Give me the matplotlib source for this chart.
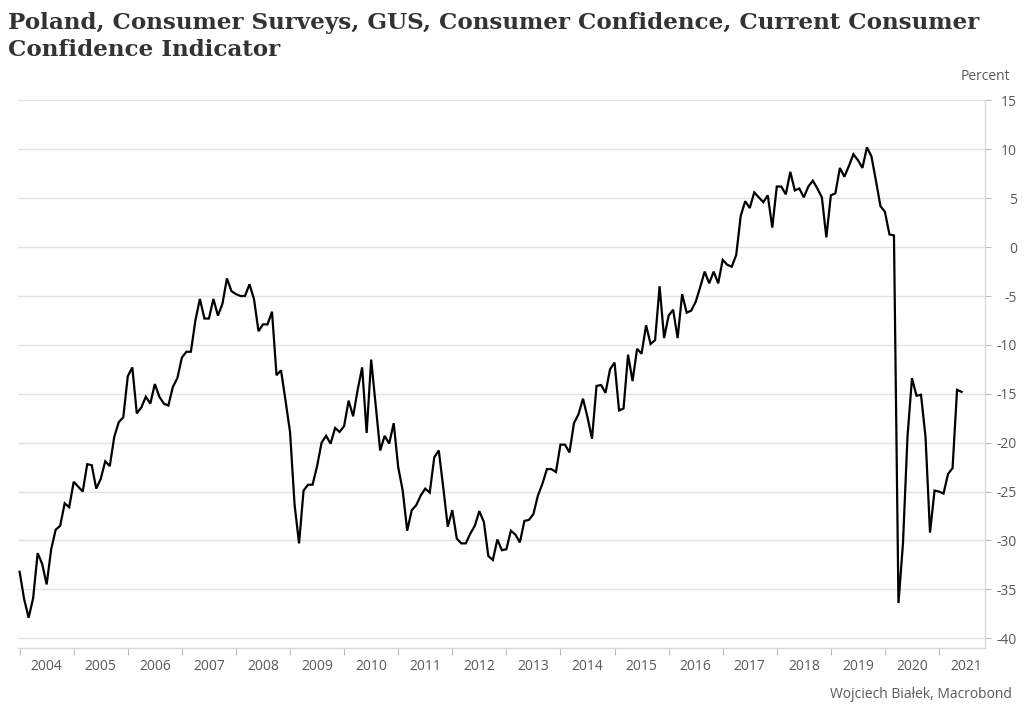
import numpy as np
import matplotlib.pyplot as plt
from matplotlib.ticker import FixedLocator, NullFormatter

# monthly readings, Jan 2004 .. Jun 2021
cci_2004 = [-33.2, -36.0, -37.9, -35.9, -31.3, -32.4, -34.5, -30.9, -28.9, -28.5, -26.2, -26.6]
cci_2005 = [-24.0, -24.5, -25.0, -22.2, -22.3, -24.7, -23.7, -21.9, -22.4, -19.4, -17.9, -17.4]
cci_2006 = [-13.2, -12.3, -17.0, -16.4, -15.3, -16.0, -14.0, -15.3, -16.0, -16.2, -14.3, -13.4]
cci_2007 = [-11.3, -10.7, -10.7, -7.5, -5.3, -7.3, -7.3, -5.3, -7.0, -5.8, -3.2, -4.5]
cci_2008 = [-4.8, -5.0, -5.0, -3.8, -5.3, -8.6, -7.9, -7.9, -6.6, -13.1, -12.6, -15.7]
cci_2009 = [-18.9, -26.3, -30.3, -24.9, -24.3, -24.3, -22.4, -20.0, -19.3, -20.1, -18.5, -18.9]
cci_2010 = [-18.3, -15.7, -17.3, -14.6, -12.3, -19.0, -11.5, -16.2, -20.8, -19.3, -20.1, -18.0]
cci_2011 = [-22.5, -24.9, -29.0, -26.9, -26.4, -25.4, -24.7, -25.1, -21.5, -20.8, -24.6, -28.6]
cci_2012 = [-26.9, -29.8, -30.3, -30.3, -29.3, -28.5, -27.0, -28.1, -31.6, -32.0, -29.9, -31.0]
cci_2013 = [-30.9, -29.0, -29.4, -30.2, -28.0, -27.9, -27.3, -25.4, -24.2, -22.7, -22.7, -23.0]
cci_2014 = [-20.2, -20.2, -21.0, -18.0, -17.1, -15.5, -17.4, -19.6, -14.2, -14.1, -14.9, -12.5]
cci_2015 = [-11.8, -16.7, -16.5, -11.0, -13.7, -10.4, -10.9, -8.0, -9.9, -9.5, -4.0, -9.3]
cci_2016 = [-7.0, -6.4, -9.3, -4.8, -6.7, -6.5, -5.6, -4.1, -2.5, -3.7, -2.5, -3.7]
cci_2017 = [-1.3, -1.8, -2.0, -0.8, 3.2, 4.7, 4.0, 5.6, 5.1, 4.6, 5.3, 2.0]
cci_2018 = [6.2, 6.2, 5.4, 7.7, 5.8, 6.0, 5.1, 6.2, 6.8, 6.0, 5.1, 1.0]
cci_2019 = [5.3, 5.5, 8.1, 7.2, 8.3, 9.5, 8.9, 8.1, 10.2, 9.3, 6.8, 4.2]
cci_2020 = [3.6, 1.3, 1.2, -36.4, -30.3, -19.4, -13.4, -15.2, -15.1, -19.4, -29.2, -24.9]
cci_2021 = [-25.0, -25.2, -23.2, -22.6, -14.6, -14.8]

year_labels = [str(y) for y in range(2004, 2022)]
y_ticks = [15, 10, 5, 0, -5, -10, -15, -20, -25, -30, -35, -40]

title = "Poland, Consumer Surveys, GUS, Consumer Confidence, Current Consumer\nConfidence Indicator"
unit = "Percent"
source = "Wojciech Białek, Macrobond"

values = np.array(cci_2004 + cci_2005 + cci_2006 + cci_2007 + cci_2008 + cci_2009 +
                  cci_2010 + cci_2011 + cci_2012 + cci_2013 + cci_2014 + cci_2015 +
                  cci_2016 + cci_2017 + cci_2018 + cci_2019 + cci_2020 + cci_2021)
x = 2004 + np.arange(len(values)) / 12.

gray = "#595959"
grid = "#e3e3e3"

fig = plt.figure(figsize=(10.24, 7.17), dpi=100)
W, H = 1024., 717.
ax = fig.add_axes([18/W, (H-648)/H, (985-18)/W, (648-100)/H])

ax.plot(x, values, color="black", lw=1.6, solid_joinstyle="miter", zorder=3)

ax.set_xlim(2003.97, 2021.85)
ax.set_ylim(-41.0, 15.05)

# y axis on the right
ax.yaxis.tick_right()
ax.set_yticks(y_ticks)
ax.set_yticklabels([str(t) for t in y_ticks], ha="right", family="Open Sans",
                   fontsize=10, color=gray)
ax.tick_params(axis="y", length=4, width=0.8, color="#bdbdbd", pad=19)
ax.grid(axis="y", color=grid, lw=1)

# x axis: ticks at year boundaries, labels mid-year
years = np.arange(2004, 2022)
ax.xaxis.set_major_locator(FixedLocator(years))
ax.xaxis.set_major_formatter(NullFormatter())
ax.xaxis.set_minor_locator(FixedLocator(years + 0.5))
ax.set_xticklabels(year_labels, minor=True, family="Open Sans", fontsize=10, color=gray)
ax.tick_params(axis="x", which="major", length=5, width=0.8, color="#bdbdbd")
ax.tick_params(axis="x", which="minor", length=0, pad=8)

for s in ["top", "left"]:
    ax.spines[s].set_visible(False)
for s in ["bottom", "right"]:
    ax.spines[s].set_color("#d9d9d9")
    ax.spines[s].set_linewidth(1)

fig.text(8/W, 1 - 12/H, title, ha="left", va="top", family="DejaVu Serif",
         fontweight="bold", fontsize=16.6, color="#333333", linespacing=1.3)
fig.text(1010/W, 1 - 76/H, unit, ha="right", va="center", family="Open Sans",
         fontsize=10, color=gray)
fig.text(1012/W, 1 - 695/H, source, ha="right", va="center", family="Open Sans",
         fontsize=10, color=gray)

fig.savefig("out.png", dpi=100, facecolor="white")
